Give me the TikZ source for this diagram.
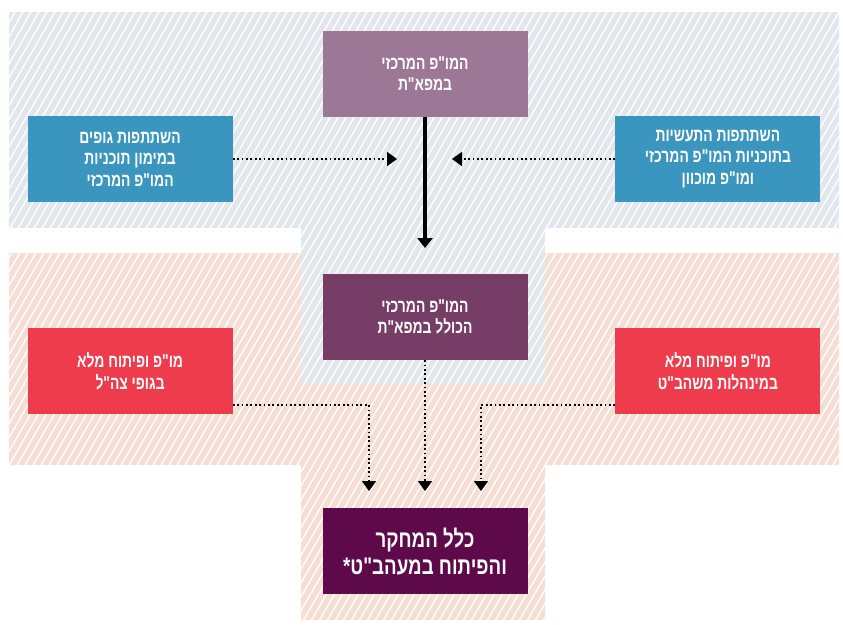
\documentclass[tikz,border=0pt]{standalone}
\usepackage{fontspec}
\newfontfamily\hebfont[Script=Hebrew, FakeStretch=0.75]{Liberation Sans}
\newfontfamily\hebbig[Script=Hebrew, FakeStretch=0.78]{Liberation Sans}
\TeXXeTstate=1
\usetikzlibrary{positioning,arrows.meta}
\definecolor{bgblue}{HTML}{E1E7ED}
\definecolor{bgpink}{HTML}{F6DED4}
\definecolor{cmauve}{HTML}{9D7896}
\definecolor{cblue}{HTML}{3A96BE}
\definecolor{cpurple}{HTML}{763E67}
\definecolor{cred}{HTML}{EE3C4C}
\definecolor{cplum}{HTML}{5E0A4A}
\tikzset{
  box/.style={minimum width=205pt, minimum height=86pt, inner sep=0pt, align=center,
    text=white, font=\hebfont\bfseries\fontsize{18.5}{21.5}\selectfont},
  hatch/.style={white, line width=1.4pt},
  dotarrow/.style={line width=1.8pt, dash pattern=on 1.8pt off 2.6pt,
    -{Triangle[width=14pt,length=10pt]}},
  solidarrow/.style={line width=3.2pt, -{Triangle[width=15pt,length=10pt]}},
}
\begin{document}
\begin{tikzpicture}[x=1pt,y=-1pt]
    \useasboundingbox (0,0) rectangle (843,624);
    \begin{scope}
    \fill[bgpink] (9,253) rectangle (839,465) (301,465) rectangle (545,620);
    \clip (9,253) rectangle (839,465) (301,465) rectangle (545,620);
    \foreach \i in {-700,-692,...,850} \draw[hatch] (\i,640) -- ++(370,-640);
    \end{scope}
    \begin{scope}
    \fill[bgblue] (9,12) rectangle (839,228) (301,227) rectangle (545,383);
    \clip (9,12) rectangle (839,228) (301,227) rectangle (545,383);
    \foreach \i in {-700,-692,...,850} \draw[hatch] (\i,640) -- ++(370,-640);
    \end{scope}

    \node [box, fill=cmauve] (top) at (425,73.5)
        {\beginR המו"פ המרכזי\endR\\\beginR במפא"ת\endR};
    \node [box, fill=cpurple, below=157pt of top] (mid)
        {\beginR המו"פ המרכזי\endR\\\beginR הכולל במפא"ת\endR};
    \node [box, fill=cplum, below=148pt of mid, font=\hebbig\bfseries\fontsize{24}{27}\selectfont] (all)
        {\beginR כלל המחקר\endR\\\beginR והפיתוח במעהב"ט*\endR};
    \node [box, fill=cblue, left=89.5pt of top, yshift=-85.5pt] (bodies)
        {\beginR השתתפות גופים\endR\\\beginR במימון תוכניות\endR\\\beginR המו"פ המרכזי\endR};
    \node [box, fill=cblue, right=87.5pt of top, yshift=-85.5pt] (industry)
        {\beginR השתתפות התעשיות\endR\\\beginR בתוכניות המו"פ המרכזי\endR\\\beginR ומו"פ מוכוון\endR};
    \node [box, fill=cred, left=89.5pt of mid, yshift=-54.5pt] (idf)
        {\beginR מו"פ ופיתוח מלא\endR\\\beginR בגופי צה"ל\endR};
    \node [box, fill=cred, right=87.5pt of mid, yshift=-54.5pt] (mod)
        {\beginR מו"פ ופיתוח מלא\endR\\\beginR במינהלות משהב"ט\endR};

    \coordinate (tipm) at (425,248);
    \coordinate (tipl) at (397,159);
    \coordinate (tipr) at (452,159);
    \coordinate (tipa) at (369,491);
    \coordinate (tipb) at (425,491);
    \coordinate (tipc) at (481,491);

    \draw [solidarrow] (top) -- (tipm);
    \draw [dotarrow] (bodies) -- (tipl);
    \draw [dotarrow] (industry) -- (tipr);
    \draw [dotarrow] (mid) -- (tipb);
    \draw [dotarrow] ([yshift=-33.5pt]idf.east) -| (tipa);
    \draw [dotarrow] ([yshift=-33.5pt]mod.west) -| (tipc);
\end{tikzpicture}
\end{document}
